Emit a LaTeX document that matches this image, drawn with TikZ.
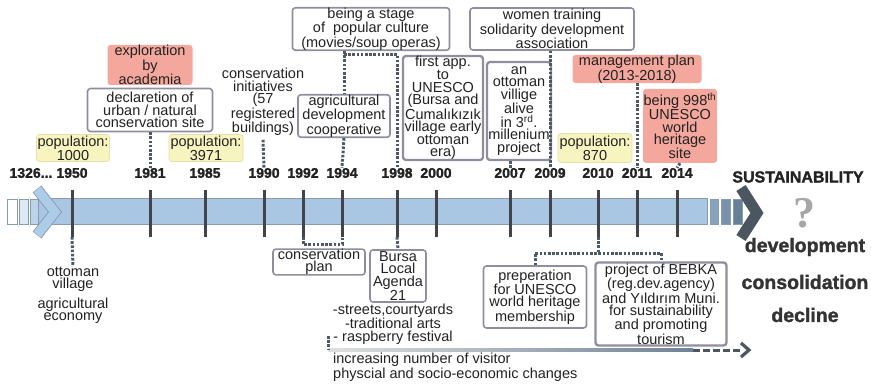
\documentclass[tikz,border=0pt]{standalone}
\usepackage{fontspec}
\setmainfont{Liberation Sans}
\newfontfamily\heavyfont[BoldFeatures={FakeBold=1.6}]{Liberation Sans}
\newfontfamily\qfont{Liberation Serif}
\definecolor{salmon}{HTML}{F4A79D}
\definecolor{yel}{HTML}{F8F4C0}
\definecolor{yelb}{HTML}{E6E0A8}
\definecolor{boxc}{HTML}{8E8E9E}
\definecolor{dotc}{HTML}{4F5963}
\definecolor{tickc}{HTML}{3F454B}
\definecolor{barc}{HTML}{A9C6E2}
\definecolor{barb}{HTML}{8A9BAE}
\definecolor{darkc}{HTML}{4B5661}
\definecolor{txtc}{HTML}{222222}
\definecolor{wordc}{HTML}{333333}
\tikzset{
  txt/.style={font=\fontsize{14.5}{12.3}\selectfont, align=center, inner sep=0pt, text=txtc},
  wbox/.style={txt, draw=boxc, line width=1.6pt, fill=white, rounded corners=3pt},
  wboxb/.style={wbox, line width=2.3pt},
  rbox/.style={txt, fill=salmon, rounded corners=3pt},
  ybox/.style={txt, fill=yel, draw=yelb, line width=0.8pt, rounded corners=3pt},
  yr/.style={font=\heavyfont\fontsize{14}{14}\selectfont\bfseries, inner sep=0pt, text=txtc},
  tickline/.style={line width=3pt, draw=tickc},
  dotline/.style={line width=3pt, draw=dotc, dash pattern=on 2.6pt off 1.6pt},
  bigword/.style={font=\heavyfont\fontsize{19.5}{19.5}\selectfont\bfseries, text=wordc, inner sep=0pt},
}
\begin{document}
\begin{tikzpicture}[x=1pt,y=-1pt]
\useasboundingbox (0,0) rectangle (871,385);

% ---- main bar ----
\fill[barc] (38,198) rectangle (707,224);
\draw[barb, line width=0.6pt] (38,198) rectangle (707,224);
\draw[barb, line width=0.8pt, fill=white] (7,199) rectangle (17,224);
\draw[barb, line width=0.8pt, fill={rgb,255:red,220;green,234;blue,246}] (19,199) rectangle (28,224);
\draw[barb, line width=0.8pt, fill={rgb,255:red,188;green,213;blue,236}] (30,199) rectangle (38,224);
\draw[barb, line width=0.8pt, fill={rgb,255:red,138;green,163;blue,189}] (710,199) rectangle (718,224);
\draw[barb, line width=0.8pt, fill={rgb,255:red,122;green,147;blue,173}] (721,199) rectangle (730,224);
\draw[barb, line width=0.8pt, fill={rgb,255:red,103;green,128;blue,154}] (733,199) rectangle (742,224);

% chevrons
\draw[line width=11pt, draw=barb] (37,189) -- (55,212) -- (37,235);
\draw[line width=9.2pt, draw={rgb,255:red,172;green,204;blue,232}] (37.3,189.4) -- (55,212) -- (37.3,234.6);
\draw[line width=11pt, draw=darkc] (741,188) -- (757,213) -- (741,238);

% ---- ticks and year labels ----
\node[yr] (y1326) at (31,173) {1326...};
\foreach \yv/\xx in {1950/72,1981/150,1985/205,1990/264,1992/303,1994/342,1998/397,2000/436,2007/510,2009/550,2010/598,2011/637,2014/677} {
  \node[yr] (y\yv) at (\xx,173) {\yv};
  \coordinate (b\yv) at (\xx,237);
  \draw[tickline] (\xx,190) -- (b\yv);
}

% ---- right side ----
\node[font=\heavyfont\fontsize{16}{16}\selectfont\bfseries, text=txtc, inner sep=0pt] (sust) at (798,177) {SUSTAINABILITY};
\node[font=\qfont\fontsize{44}{44}\selectfont\bfseries, text=gray!70, inner sep=0pt] (qm) at (804,213) {?};
\node[bigword] (dev) at (805,247) {development};
\node[bigword] (cons) at (805,282) {consolidation};
\node[bigword] (decl2) at (805,315) {decline};

% ---- upper nodes ----
\node[rbox, minimum width=85, minimum height=40] (explo) at (150,65) {exploration\\by\\academia};
\node[wbox, minimum width=125, minimum height=43] (decl) at (150,110) {declaretion of\\urban / natural\\conservation site};
\node[ybox, minimum width=73, minimum height=27] (p1000) at (73,148) {population:\\1000};
\node[ybox, minimum width=74, minimum height=27] (p3971) at (206,148) {population:\\3971};
\node[txt] (init) at (263,102) {conservation\\initiatives\\(57\\registered\\buildings)};
\node[wbox, minimum width=157, minimum height=42] (stage) at (371,29) {being a stage\\of\ \ popular culture\\(movies/soup operas)};
\node[wbox, minimum width=92, minimum height=41] (agri) at (344,116) {agricultural\\development\\cooperative};
\node[wboxb, minimum width=80, minimum height=103] (first) at (443,108) {first app.\\to\\UNESCO\\(Bursa and\\Cumalıkızık\\village early\\ottoman\\era)};
\node[wboxb, minimum width=64, minimum height=98] (alive) at (519,111) {an\\ottoman\\villige\\alive\\in 3\textsuperscript{rd}.\\millenium\\project};
\node[wbox, minimum width=164, minimum height=42] (women) at (552,29) {women training\\solidarity development\\association};
\node[rbox, minimum width=129, minimum height=28] (mgmt) at (637,69) {management plan\\(2013-2018)};
\node[rbox, minimum width=74, minimum height=74] (herit) at (680,126) {being 998\textsuperscript{th}\\UNESCO\\world\\heritage\\site};
\node[ybox, minimum width=74, minimum height=29] (p870) at (595,148) {population:\\870};

% ---- lower nodes ----
\node[txt] (ov) at (73,279) {ottoman\\village};
\node[txt] (ae) at (73,311) {agricultural\\economy};
\node[wbox, minimum width=92, minimum height=25] (cplan) at (319,262) {conservation\\plan};
\node[wbox, minimum width=56, minimum height=52] (bursa) at (398,276) {Bursa\\Local\\Agenda\\21};
\node[txt] (streets) at (393,324) {-streets,courtyards\\-traditional arts\\- raspberry festival};
\node[wbox, minimum width=103, minimum height=62] (prep) at (535,297) {preperation\\for UNESCO\\world heritage\\membership};
\node[wboxb, minimum width=131, minimum height=83] (bebka) at (661,304) {project of BEBKA\\(reg.dev.agency)\\and Yıldırım Muni.\\for sustainability\\and promoting\\tourism};
\node[txt, align=left, anchor=north west] (incr) at (333,353) {increasing number of visitor\\physcial and socio-economic changes};

% ---- dotted connectors above ----
\draw[dotline] (decl.south) -- (y1981.north);
\draw[dotline] ([yshift=-4pt]init.south) -- (y1990.north);
\draw[dotline] (stage.south -| agri.north) -- (agri.north);
\draw[dotline] (agri.south) -- (y1994.north);
\draw[dotline] ([yshift=-3pt]stage.south -| agri.north) -| (y1998.north);
\draw[dotline] (alive.south -| y2007.north) -- (y2007.north);
\draw[dotline] (women.south -| y2009.north) -- (y2009.north);
\draw[dotline] (mgmt.south -| y2011.north) -- (y2011.north);
\draw[dotline] (herit.south) -- (y2014.north);

% ---- dotted connectors below ----
\draw[dotline] (b1950) -- (ov.north);
\draw[dotline] (b1992) |- ([yshift=4pt]cplan.north -| b1994) -- (b1994);
\draw[dotline] (b1998) -- (bursa.north);
\coordinate (j2010) at (598,253);
\draw[dotline] (b2010) -- (j2010);
\draw[dotline] (prep.north) |- (j2010) -| (bebka.north);

% ---- long arrow ----
\coordinate (a0) at (328,350);
\coordinate (a1) at (693,350);
\coordinate (a2) at (743,350);
\shade[left color=gray!25, right color={rgb,255:red,111;green,130;blue,150}] (328,348.3) rectangle (693,351.7);
\draw[darkc, line width=3pt, dash pattern=on 7pt off 3pt] (a1) -- (a2);
\draw[darkc, line width=3.2pt] (741,343) -- (749,350) -- (741,357);
\draw[dotline] (328,336) -- (a0);
\end{tikzpicture}
\end{document}
